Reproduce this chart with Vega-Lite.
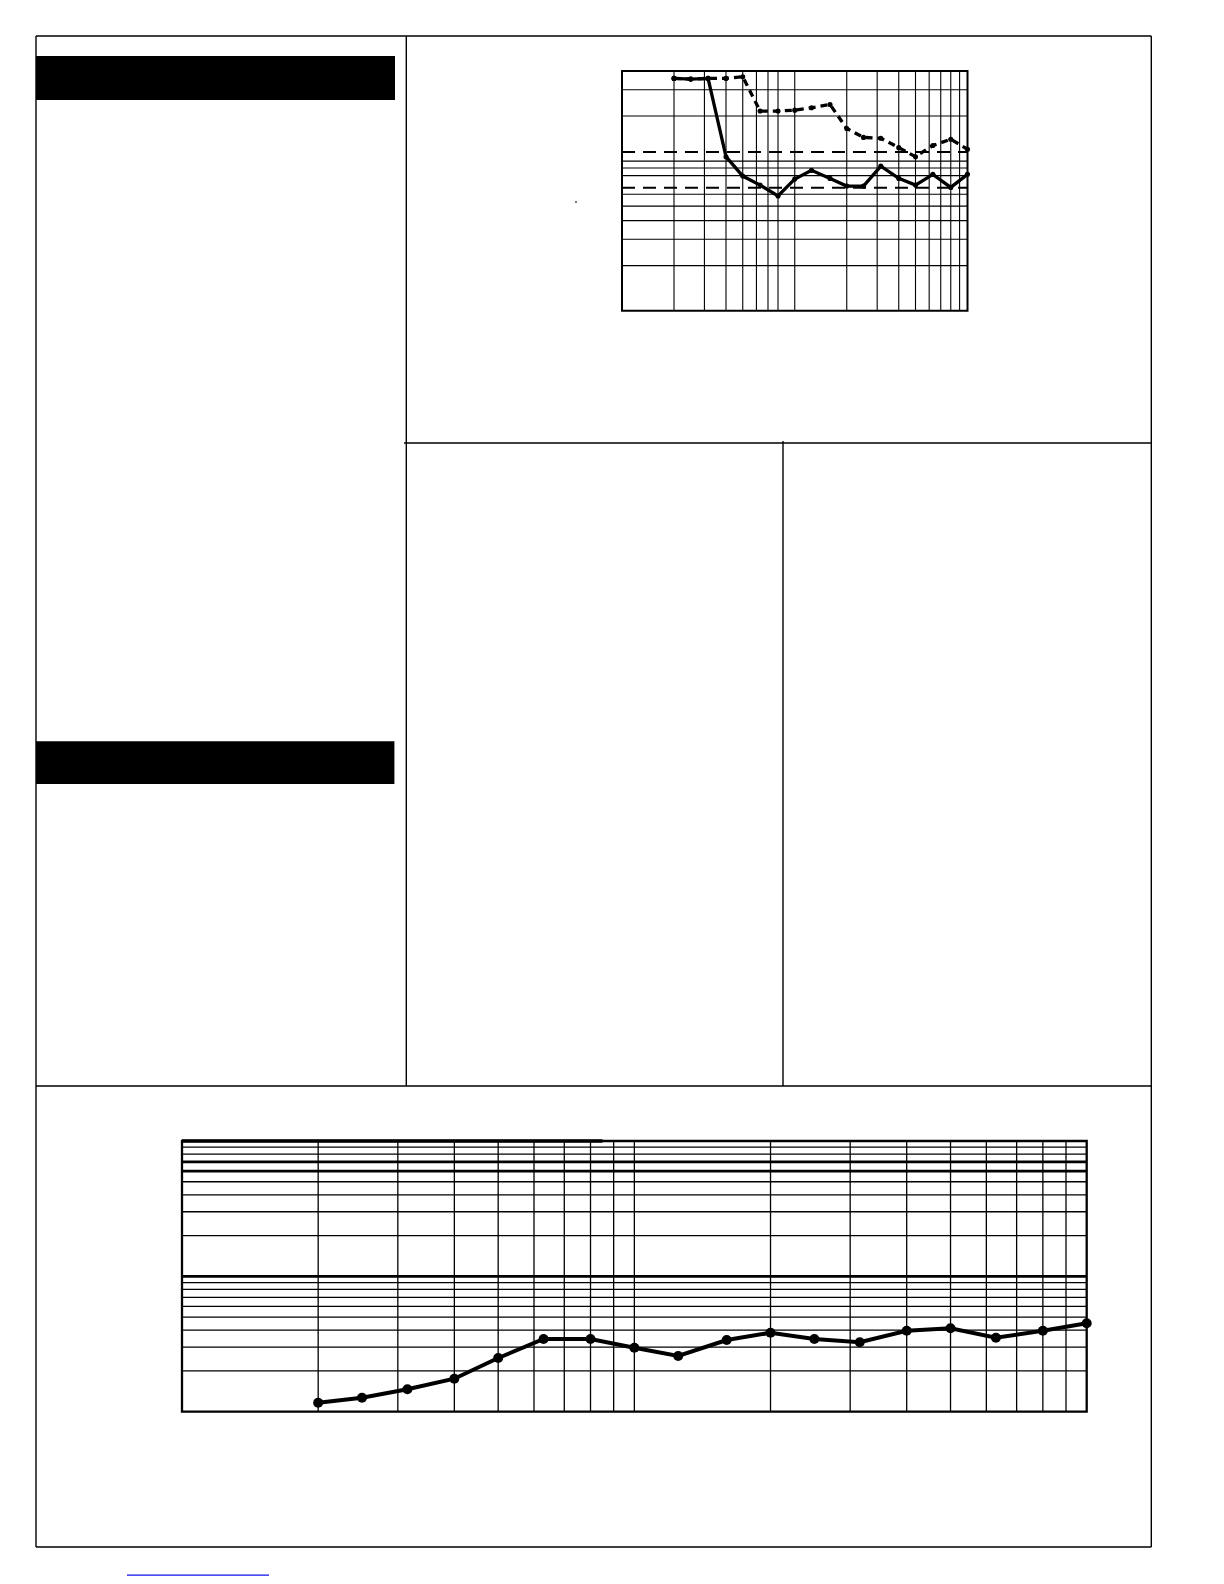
{
  "$schema": "https://vega.github.io/schema/vega-lite/v6.json",
  "width": 1224,
  "height": 1584,
  "autosize": {"type": "fit", "contains": "padding"},
  "padding": 0,
  "background": "white",
  "config": {"view": {"stroke": null}},
  "datasets": {
    "page_lines": [
      {"x": 18, "y": 18, "x2": 575.65, "y2": 18},
      {"x": 18, "y": 773.5, "x2": 575.65, "y2": 773.5},
      {"x": 18, "y": 18, "x2": 18, "y2": 773.5},
      {"x": 575.65, "y": 18, "x2": 575.65, "y2": 773.5},
      {"x": 203.15, "y": 18, "x2": 203.15, "y2": 543},
      {"x": 202, "y": 221.5, "x2": 575.65, "y2": 221.5},
      {"x": 391.5, "y": 220.5, "x2": 391.5, "y2": 543},
      {"x": 18, "y": 543, "x2": 575.65, "y2": 543}
    ],
    "page_bars": [
      {"x": 18, "y": 28, "x2": 197.5, "y2": 50},
      {"x": 18, "y": 370.6, "x2": 197.2, "y2": 392}
    ],
    "page_link": [{"x": 63.5, "y": 787.6, "x2": 134.5, "y2": 787.6}],
    "page_dot": [{"x": 288, "y": 101}],
    "top_xgrid": [{"f": 2}, {"f": 3}, {"f": 4}, {"f": 5}, {"f": 6}, {"f": 7}, {"f": 8}, {"f": 10}, {"f": 20}, {"f": 30}, {"f": 40}, {"f": 50}, {"f": 60}, {"f": 70}, {"f": 80}, {"f": 90}],
    "top_ygrid": [{"v": 2}, {"v": 3}, {"v": 4}, {"v": 5}, {"v": 6}, {"v": 8}, {"v": 9}, {"v": 10}, {"v": 20}, {"v": 30}],
    "top_limits": [{"v": 11.5}, {"v": 6.63}],
    "top_series": [
      {"f": 2, "series": "solid", "v": 35.7}, {"f": 2.5, "series": "solid", "v": 35.3}, {"f": 3.15, "series": "solid", "v": 35.7},
      {"f": 4, "series": "solid", "v": 10.7}, {"f": 5, "series": "solid", "v": 7.94}, {"f": 6.3, "series": "solid", "v": 6.91},
      {"f": 8, "series": "solid", "v": 5.84}, {"f": 10, "series": "solid", "v": 7.58}, {"f": 12.5, "series": "solid", "v": 8.67},
      {"f": 16, "series": "solid", "v": 7.66}, {"f": 20, "series": "solid", "v": 6.81}, {"f": 25, "series": "solid", "v": 6.81},
      {"f": 31.5, "series": "solid", "v": 9.26}, {"f": 40, "series": "solid", "v": 7.66}, {"f": 50, "series": "solid", "v": 6.91},
      {"f": 63, "series": "solid", "v": 8.15}, {"f": 80, "series": "solid", "v": 6.67}, {"f": 100, "series": "solid", "v": 8.15},
      {"f": 2, "series": "dotted", "v": 35.7}, {"f": 2.5, "series": "dotted", "v": 35.3}, {"f": 3.15, "series": "dotted", "v": 35.7},
      {"f": 4, "series": "dotted", "v": 35.7}, {"f": 5, "series": "dotted", "v": 36.6}, {"f": 6.3, "series": "dotted", "v": 21.6},
      {"f": 8, "series": "dotted", "v": 21.6}, {"f": 10, "series": "dotted", "v": 21.9}, {"f": 12.5, "series": "dotted", "v": 22.7},
      {"f": 16, "series": "dotted", "v": 23.9}, {"f": 20, "series": "dotted", "v": 16.5}, {"f": 25, "series": "dotted", "v": 14.4},
      {"f": 31.5, "series": "dotted", "v": 14.2}, {"f": 40, "series": "dotted", "v": 12.3}, {"f": 50, "series": "dotted", "v": 10.7},
      {"f": 63, "series": "dotted", "v": 12.7}, {"f": 80, "series": "dotted", "v": 14.0}, {"f": 100, "series": "dotted", "v": 12.0}
    ],
    "bot_xgrid": [{"f": 2}, {"f": 3}, {"f": 4}, {"f": 5}, {"f": 6}, {"f": 7}, {"f": 8}, {"f": 9}, {"f": 10}, {"f": 20}, {"f": 30}, {"f": 40}, {"f": 50}, {"f": 60}, {"f": 70}, {"f": 80}, {"f": 90}],
    "bot_ygrid": [{"v": 2}, {"v": 3}, {"v": 4}, {"v": 5}, {"v": 6}, {"v": 7}, {"v": 8}, {"v": 9}, {"v": 10}, {"v": 20}, {"v": 30}, {"v": 40}, {"v": 50}, {"v": 60}, {"v": 70}, {"v": 80}, {"v": 90}],
    "bot_series": [
      {"f": 2, "v": 1.166}, {"f": 2.5, "v": 1.269}, {"f": 3.15, "v": 1.464}, {"f": 4, "v": 1.753}, {"f": 5, "v": 2.493},
      {"f": 6.3, "v": 3.444}, {"f": 8, "v": 3.444}, {"f": 10, "v": 2.971}, {"f": 12.5, "v": 2.579}, {"f": 16, "v": 3.386},
      {"f": 20, "v": 3.834}, {"f": 25, "v": 3.444}, {"f": 31.5, "v": 3.256}, {"f": 40, "v": 3.967}, {"f": 50, "v": 4.133},
      {"f": 63, "v": 3.521}, {"f": 80, "v": 3.967}, {"f": 100, "v": 4.499}
    ]
  },
  "resolve": {"scale": {"x": "independent", "y": "independent"}},
  "layer": [
    {
      "layer": [
        {
          "data": {"name": "page_bars"},
          "mark": {"type": "rect", "color": "black"},
          "encoding": {
            "x": {"field": "x", "type": "quantitative", "axis": null, "scale": {"type": "linear", "domain": [0, 612], "range": [0, 1224], "nice": false, "zero": false}},
            "x2": {"field": "x2"},
            "y": {"field": "y", "type": "quantitative", "axis": null, "scale": {"type": "linear", "domain": [0, 792], "range": [0, 1584], "nice": false, "zero": false}},
            "y2": {"field": "y2"}
          }
        },
        {
          "data": {"name": "page_lines"},
          "mark": {"type": "rule", "color": "black", "strokeWidth": 1.4},
          "encoding": {
            "x": {"field": "x", "type": "quantitative", "axis": null, "scale": {"type": "linear", "domain": [0, 612], "range": [0, 1224], "nice": false, "zero": false}},
            "x2": {"field": "x2"},
            "y": {"field": "y", "type": "quantitative", "axis": null, "scale": {"type": "linear", "domain": [0, 792], "range": [0, 1584], "nice": false, "zero": false}},
            "y2": {"field": "y2"}
          }
        },
        {
          "data": {"name": "page_link"},
          "mark": {"type": "rule", "color": "#1010ee", "strokeWidth": 1.2},
          "encoding": {
            "x": {"field": "x", "type": "quantitative", "axis": null, "scale": {"type": "linear", "domain": [0, 612], "range": [0, 1224], "nice": false, "zero": false}},
            "x2": {"field": "x2"},
            "y": {"field": "y", "type": "quantitative", "axis": null, "scale": {"type": "linear", "domain": [0, 792], "range": [0, 1584], "nice": false, "zero": false}},
            "y2": {"field": "y2"}
          }
        },
        {
          "data": {"name": "page_dot"},
          "mark": {"type": "square", "color": "black", "size": 2, "opacity": 1},
          "encoding": {
            "x": {"field": "x", "type": "quantitative", "axis": null, "scale": {"type": "linear", "domain": [0, 612], "range": [0, 1224], "nice": false, "zero": false}},
            "y": {"field": "y", "type": "quantitative", "axis": null, "scale": {"type": "linear", "domain": [0, 792], "range": [0, 1584], "nice": false, "zero": false}}
          }
        }
      ]
    },
    {
      "layer": [
        {
          "data": {"name": "top_xgrid"},
          "mark": {"type": "rule", "color": "black", "strokeWidth": 1.1},
          "encoding": {
            "x": {"field": "f", "type": "quantitative", "axis": null, "scale": {"type": "log", "domain": [1, 100], "range": [622, 967.5], "nice": false}},
            "y": {"datum": 1, "type": "quantitative", "axis": null, "scale": {"type": "log", "domain": [1, 40], "range": [310.7, 71], "nice": false}},
            "y2": {"datum": 40}
          }
        },
        {
          "data": {"name": "top_ygrid"},
          "mark": {"type": "rule", "color": "black", "strokeWidth": 1.1},
          "encoding": {
            "y": {"field": "v", "type": "quantitative", "axis": null, "scale": {"type": "log", "domain": [1, 40], "range": [310.7, 71], "nice": false}},
            "x": {"datum": 1, "type": "quantitative", "axis": null, "scale": {"type": "log", "domain": [1, 100], "range": [622, 967.5], "nice": false}},
            "x2": {"datum": 100}
          }
        },
        {
          "data": {"name": "top_limits"},
          "mark": {"type": "rule", "color": "black", "strokeWidth": 2, "strokeDash": [13, 8]},
          "encoding": {
            "y": {"field": "v", "type": "quantitative", "axis": null, "scale": {"type": "log", "domain": [1, 40], "range": [310.7, 71], "nice": false}},
            "x": {"datum": 1, "type": "quantitative", "axis": null, "scale": {"type": "log", "domain": [1, 100], "range": [622, 967.5], "nice": false}},
            "x2": {"datum": 100}
          }
        },
        {
          "data": {"values": [{}]},
          "mark": {"type": "rect", "fill": "white", "fillOpacity": 0, "stroke": "black", "strokeWidth": 2},
          "encoding": {
            "x": {"datum": 1, "type": "quantitative", "axis": null, "scale": {"type": "log", "domain": [1, 100], "range": [622, 967.5], "nice": false}},
            "x2": {"datum": 100},
            "y": {"datum": 1, "type": "quantitative", "axis": null, "scale": {"type": "log", "domain": [1, 40], "range": [310.7, 71], "nice": false}},
            "y2": {"datum": 40}
          }
        },
        {
          "data": {"name": "top_series"},
          "transform": [{"filter": {"field": "series", "equal": "dotted"}}],
          "mark": {"type": "line", "color": "black", "strokeWidth": 3.3, "strokeDash": [7, 5]},
          "encoding": {
            "x": {"field": "f", "type": "quantitative", "axis": null, "scale": {"type": "log", "domain": [1, 100], "range": [622, 967.5], "nice": false}},
            "y": {"field": "v", "type": "quantitative", "axis": null, "scale": {"type": "log", "domain": [1, 40], "range": [310.7, 71], "nice": false}}
          }
        },
        {
          "data": {"name": "top_series"},
          "transform": [{"filter": {"field": "series", "equal": "solid"}}],
          "mark": {"type": "line", "color": "black", "strokeWidth": 3.3},
          "encoding": {
            "x": {"field": "f", "type": "quantitative", "axis": null, "scale": {"type": "log", "domain": [1, 100], "range": [622, 967.5], "nice": false}},
            "y": {"field": "v", "type": "quantitative", "axis": null, "scale": {"type": "log", "domain": [1, 40], "range": [310.7, 71], "nice": false}}
          }
        },
        {
          "data": {"name": "top_series"},
          "mark": {"type": "point", "filled": true, "color": "black", "opacity": 1, "size": 26},
          "encoding": {
            "x": {"field": "f", "type": "quantitative", "axis": null, "scale": {"type": "log", "domain": [1, 100], "range": [622, 967.5], "nice": false}},
            "y": {"field": "v", "type": "quantitative", "axis": null, "scale": {"type": "log", "domain": [1, 40], "range": [310.7, 71], "nice": false}}
          }
        }
      ]
    },
    {
      "layer": [
        {
          "data": {"name": "bot_xgrid"},
          "mark": {"type": "rule", "color": "black", "strokeWidth": 1.3},
          "encoding": {
            "x": {"field": "f", "type": "quantitative", "axis": null, "scale": {"type": "log", "domain": [1, 100], "range": [182, 1086.7], "nice": false}},
            "y": {"datum": 1, "type": "quantitative", "axis": null, "scale": {"type": "log", "domain": [1, 100], "range": [1411.7, 1141], "nice": false}},
            "y2": {"datum": 100}
          }
        },
        {
          "data": {"name": "bot_ygrid"},
          "mark": {"type": "rule", "color": "black", "strokeWidth": 1.3},
          "encoding": {
            "y": {"field": "v", "type": "quantitative", "axis": null, "scale": {"type": "log", "domain": [1, 100], "range": [1411.7, 1141], "nice": false}},
            "x": {"datum": 1, "type": "quantitative", "axis": null, "scale": {"type": "log", "domain": [1, 100], "range": [182, 1086.7], "nice": false}},
            "x2": {"datum": 100}
          }
        },
        {
          "data": {"name": "bot_ygrid"},
          "transform": [{"filter": {"field": "v", "oneOf": [10, 60, 70]}}],
          "mark": {"type": "rule", "color": "black", "strokeWidth": 2.8},
          "encoding": {
            "y": {"field": "v", "type": "quantitative", "axis": null, "scale": {"type": "log", "domain": [1, 100], "range": [1411.7, 1141], "nice": false}},
            "x": {"datum": 1, "type": "quantitative", "axis": null, "scale": {"type": "log", "domain": [1, 100], "range": [182, 1086.7], "nice": false}},
            "x2": {"datum": 100}
          }
        },
        {
          "data": {"values": [{}]},
          "mark": {"type": "rect", "fill": "white", "fillOpacity": 0, "stroke": "black", "strokeWidth": 2.3},
          "encoding": {
            "x": {"datum": 1, "type": "quantitative", "axis": null, "scale": {"type": "log", "domain": [1, 100], "range": [182, 1086.7], "nice": false}},
            "x2": {"datum": 100},
            "y": {"datum": 1, "type": "quantitative", "axis": null, "scale": {"type": "log", "domain": [1, 100], "range": [1411.7, 1141], "nice": false}},
            "y2": {"datum": 100}
          }
        },
        {
          "data": {"values": [{}]},
          "mark": {"type": "rule", "color": "black", "strokeWidth": 3.4},
          "encoding": {
            "x": {"datum": 1, "type": "quantitative", "axis": null, "scale": {"type": "log", "domain": [1, 100], "range": [182, 1086.7], "nice": false}},
            "x2": {"datum": 8.5},
            "y": {"datum": 100, "type": "quantitative", "axis": null, "scale": {"type": "log", "domain": [1, 100], "range": [1411.7, 1141], "nice": false}}
          }
        },
        {
          "data": {"name": "bot_series"},
          "mark": {"type": "line", "color": "black", "strokeWidth": 4},
          "encoding": {
            "x": {"field": "f", "type": "quantitative", "axis": null, "scale": {"type": "log", "domain": [1, 100], "range": [182, 1086.7], "nice": false}},
            "y": {"field": "v", "type": "quantitative", "axis": null, "scale": {"type": "log", "domain": [1, 100], "range": [1411.7, 1141], "nice": false}}
          }
        },
        {
          "data": {"name": "bot_series"},
          "mark": {"type": "point", "filled": true, "color": "black", "opacity": 1, "size": 100},
          "encoding": {
            "x": {"field": "f", "type": "quantitative", "axis": null, "scale": {"type": "log", "domain": [1, 100], "range": [182, 1086.7], "nice": false}},
            "y": {"field": "v", "type": "quantitative", "axis": null, "scale": {"type": "log", "domain": [1, 100], "range": [1411.7, 1141], "nice": false}}
          }
        }
      ]
    }
  ]
}
